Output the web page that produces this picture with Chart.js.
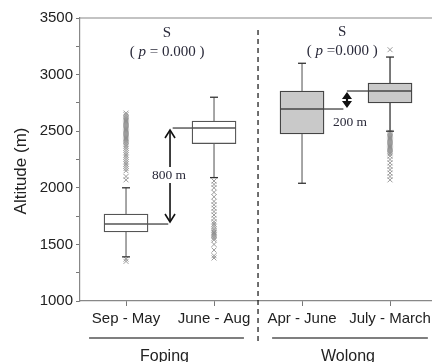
<!DOCTYPE html>
<html>
<head>
<meta charset="utf-8">
<script src="https://cdn.jsdelivr.net/npm/chart.js@4.4.0/dist/chart.umd.min.js"></script>
<style>
    html, body { margin: 0; padding: 0; background: #fff; }
    canvas { display: block; }
</style>
</head>
<body>
<canvas id="chart" width="432" height="362" style="width:432px;height:362px"></canvas>
<script>
const categories = ['Sep - May', 'June - Aug', 'Apr - June', 'July - March'];
const groups = ['Foping', 'Wolong'];
const groupMembers = [[0, 1], [2, 3]];
const whiskerLow = [1390, 2090, 2040, 2500];
const q1 = [1610, 2390, 2475, 2750];
const median = [1680, 2528, 2696, 2855];
const q3 = [1768, 2590, 2855, 2926];
const whiskerHigh = [2000, 2800, 3100, 3155];
const outliers = [
    [2660, 2645, 2630, 2620, 2610, 2600, 2590, 2580, 2570, 2560, 2550, 2540, 2530, 2520, 2510, 2500,
     2490, 2480, 2470, 2460, 2450, 2440, 2430, 2420, 2410, 2400, 2385, 2370, 2350, 2330, 2310, 2290,
     2270, 2250, 2230, 2210, 2190, 2170, 2150, 2100, 2070, 1370, 1350],
    [2060, 2030, 2000, 1960, 1920, 1880, 1850, 1820, 1790, 1760, 1730, 1700, 1680, 1660, 1640, 1625,
     1610, 1600, 1590, 1580, 1570, 1555, 1540, 1500, 1450, 1400, 1380],
    [],
    [3220, 2490, 2480, 2470, 2460, 2450, 2440, 2430, 2420, 2410, 2400, 2390, 2380, 2370, 2360, 2350,
     2340, 2330, 2320, 2310, 2300, 2280, 2250, 2220, 2190, 2160, 2130, 2100, 2070]
];
const significance = ['S', 'S'];
const pValues = ['0.000', '0.000'];
const diffLabels = ['800 m', '200 m'];
const yTicks = [1000, 3500, 250];

const boxFill = ['#ffffff', '#ffffff', '#c9c9c9', '#c9c9c9'];
const boxLine = ['#555555', '#555555', '#444444', '#444444'];
const whiskerColor = ['#777777', '#777777', '#777777', '#333333'];

const serif = '"Liberation Serif", "DejaVu Serif", serif';
const sans = '"Liberation Sans", Arial, sans-serif';

function line(ctx, x1, y1, x2, y2) {
    ctx.beginPath();
    ctx.moveTo(x1, y1);
    ctx.lineTo(x2, y2);
    ctx.stroke();
}

// annotations: whiskers, medians, arrows, texts, group lines
const boxExtras = {
    id: 'boxExtras',
    afterDraw(chart) {
        const ctx = chart.ctx;
        const xs = chart.scales.x, ys = chart.scales.y;
        const area = chart.chartArea;
        const X = v => xs.getPixelForValue(v);
        const Y = v => ys.getPixelForValue(v);
        ctx.save();

        // top frame line
        ctx.strokeStyle = '#888';
        ctx.lineWidth = 1.2;
        line(ctx, area.left, area.top, area.right, area.top);

        // divider between sites
        ctx.strokeStyle = '#111';
        ctx.lineWidth = 1.2;
        ctx.setLineDash([5, 4]);
        line(ctx, X(2.5), area.top + 12, X(2.5), area.bottom + 40);
        ctx.setLineDash([]);

        // whiskers and medians
        categories.forEach((c, i) => {
            const cx = X(i + 1);
            const half = xs.getPixelForValue(i + 1.25) - cx;
            ctx.strokeStyle = whiskerColor[i];
            ctx.lineWidth = 1.3;
            line(ctx, cx, Y(q3[i]), cx, Y(whiskerHigh[i]));
            line(ctx, cx, Y(q1[i]), cx, Y(whiskerLow[i]));
            ctx.strokeStyle = '#333';
            line(ctx, cx - 4, Y(whiskerHigh[i]), cx + 4, Y(whiskerHigh[i]));
            line(ctx, cx - 4, Y(whiskerLow[i]), cx + 4, Y(whiskerLow[i]));
            ctx.strokeStyle = boxLine[i];
            ctx.lineWidth = 1.4;
            line(ctx, cx - half, Y(median[i]), cx + half, Y(median[i]));
        });

        // Foping: connectors + open double arrow
        ctx.strokeStyle = '#333';
        ctx.lineWidth = 1.2;
        line(ctx, X(1.25), Y(median[0]), X(1.48), Y(median[0]));
        line(ctx, X(1.53), Y(median[1]), X(1.75), Y(median[1]));
        const ax = X(1.5);
        const aTop = Y(median[1]) + 2, aBot = Y(median[0]) - 2;
        ctx.strokeStyle = '#111';
        ctx.lineWidth = 1.6;
        line(ctx, ax, aTop, ax, aBot);
        ctx.beginPath();
        ctx.moveTo(ax - 5, aTop + 8); ctx.lineTo(ax, aTop); ctx.lineTo(ax + 5, aTop + 8);
        ctx.moveTo(ax - 5, aBot - 8); ctx.lineTo(ax, aBot); ctx.lineTo(ax + 5, aBot - 8);
        ctx.stroke();
        ctx.font = '13.5px ' + serif;
        ctx.textAlign = 'center';
        ctx.textBaseline = 'middle';
        const lbY = Y(2113);
        const tw = ctx.measureText(diffLabels[0]).width;
        ctx.fillStyle = '#fff';
        ctx.fillRect(ax - tw / 2 - 2, lbY - 8, tw + 4, 16);
        ctx.fillStyle = '#2a2a3a';
        ctx.fillText(diffLabels[0], ax - 1, lbY);

        // Wolong: connectors + filled double arrow
        ctx.strokeStyle = '#333';
        ctx.lineWidth = 1.2;
        line(ctx, X(3.25), Y(median[2]), X(3.47), Y(median[2]));
        line(ctx, X(3.51), Y(median[3]), X(3.75), Y(median[3]));
        const bx = X(3.511);
        const bTop = Y(median[3]) + 1, bBot = Y(median[2]) - 1;
        ctx.fillStyle = '#111';
        ctx.beginPath();
        ctx.moveTo(bx, bTop); ctx.lineTo(bx - 5, bTop + 7); ctx.lineTo(bx + 5, bTop + 7); ctx.closePath();
        ctx.moveTo(bx, bBot); ctx.lineTo(bx - 5, bBot - 7); ctx.lineTo(bx + 5, bBot - 7); ctx.closePath();
        ctx.fill();
        ctx.lineWidth = 2.2;
        ctx.strokeStyle = '#111';
        line(ctx, bx, bTop + 6, bx, bBot - 6);
        ctx.fillStyle = '#2a2a3a';
        ctx.fillText(diffLabels[1], X(3.545), Y(2581));

        // significance texts
        const sigPos = [[1.466, 3367, 3200], [3.456, 3376, 3208]];
        sigPos.forEach((p, g) => {
            const cx = X(p[0]);
            ctx.font = '15px ' + serif;
            ctx.textAlign = 'center';
            ctx.fillStyle = '#2a2a3a';
            ctx.fillText(significance[g], cx, Y(p[1]));
            const parts = g === 0
                ? [['( ', false], ['p', true], [' = ' + pValues[g] + ' )', false]]
                : [['( ', false], ['p', true], [' =' + pValues[g] + ' )', false]];
            let total = 0;
            parts.forEach(pt => {
                ctx.font = (pt[1] ? 'italic ' : '') + '15px ' + serif;
                total += ctx.measureText(pt[0]).width;
            });
            let x0 = cx - total / 2;
            ctx.textAlign = 'left';
            parts.forEach(pt => {
                ctx.font = (pt[1] ? 'italic ' : '') + '15px ' + serif;
                ctx.fillText(pt[0], x0, Y(p[2]));
                x0 += ctx.measureText(pt[0]).width;
            });
        });

        // group lines and names under the axis (lines stop short of the divider)
        ctx.strokeStyle = '#555';
        ctx.lineWidth = 1.6;
        ctx.fillStyle = '#222';
        ctx.font = '16px ' + sans;
        ctx.textAlign = 'center';
        groups.forEach((name, g) => {
            const first = groupMembers[g][0] + 1, last = groupMembers[g][groupMembers[g].length - 1] + 1;
            const x1 = g === 0 ? X(first - 0.42) : X(first - 0.34);
            const x2 = g === 0 ? X(last + 0.34) : X(last + 0.43);
            line(ctx, x1, area.bottom + 37, x2, area.bottom + 37);
            ctx.fillText(name, (x1 + x2) / 2 - 2, area.bottom + 56);
        });

        // y axis title
        ctx.save();
        ctx.translate(21, 171);
        ctx.rotate(-Math.PI / 2);
        ctx.font = '17px ' + sans;
        ctx.fillStyle = '#222';
        ctx.textAlign = 'center';
        ctx.textBaseline = 'middle';
        ctx.fillText('Altitude (m)', 0, 0);
        ctx.restore();

        ctx.restore();
    }
};

const boxData = categories.map((c, i) => ({ x: i + 1, y: [q1[i], q3[i]] }));
const outlierData = [];
outliers.forEach((list, i) => list.forEach(v => outlierData.push({ x: i + 1, y: v })));

new Chart(document.getElementById('chart').getContext('2d'), {
    type: 'bar',
    data: {
        datasets: [{
            type: 'bar',
            data: boxData,
            backgroundColor: boxFill,
            borderColor: boxLine,
            borderWidth: 1.3,
            borderSkipped: false,
            barThickness: 44
        }, {
            type: 'scatter',
            data: outlierData,
            pointStyle: 'crossRot',
            radius: 3.5,
            borderColor: 'rgba(140,140,140,0.85)',
            borderWidth: 1
        }]
    },
    options: {
        responsive: false,
        animation: false,
        devicePixelRatio: 1,
        layout: { autoPadding: false, padding: { top: 18, left: 0, right: 0, bottom: 0 } },
        plugins: { legend: { display: false }, tooltip: { enabled: false } },
        scales: {
            x: {
                type: 'linear',
                offset: false,
                min: 0.477,
                max: 4.477,
                afterBuildTicks: axis => { axis.ticks = categories.map((c, i) => ({ value: i + 1 })); },
                afterFit: scale => {
                    scale.height = 61;
                    scale.paddingLeft = 0;
                    scale.paddingRight = 0;
                },
                ticks: {
                    callback: v => categories[v - 1],
                    font: { family: sans, size: 15 },
                    color: '#222',
                    padding: 4,
                    maxRotation: 0,
                    autoSkip: false
                },
                grid: { drawOnChartArea: false, offset: false, tickLength: 5, color: '#777' },
                border: { color: '#888', width: 1.2 }
            },
            y: {
                min: yTicks[0],
                max: yTicks[1],
                afterFit: scale => { scale.width = 80; },
                ticks: {
                    stepSize: yTicks[2],
                    callback: v => (v % 500 === 0 ? v : ''),
                    font: { family: sans, size: 15 },
                    color: '#222',
                    padding: 3
                },
                grid: { drawOnChartArea: false, tickLength: 4, color: '#777' },
                border: { color: '#888', width: 1.2 }
            }
        }
    },
    plugins: [boxExtras]
});
</script>
</body>
</html>
